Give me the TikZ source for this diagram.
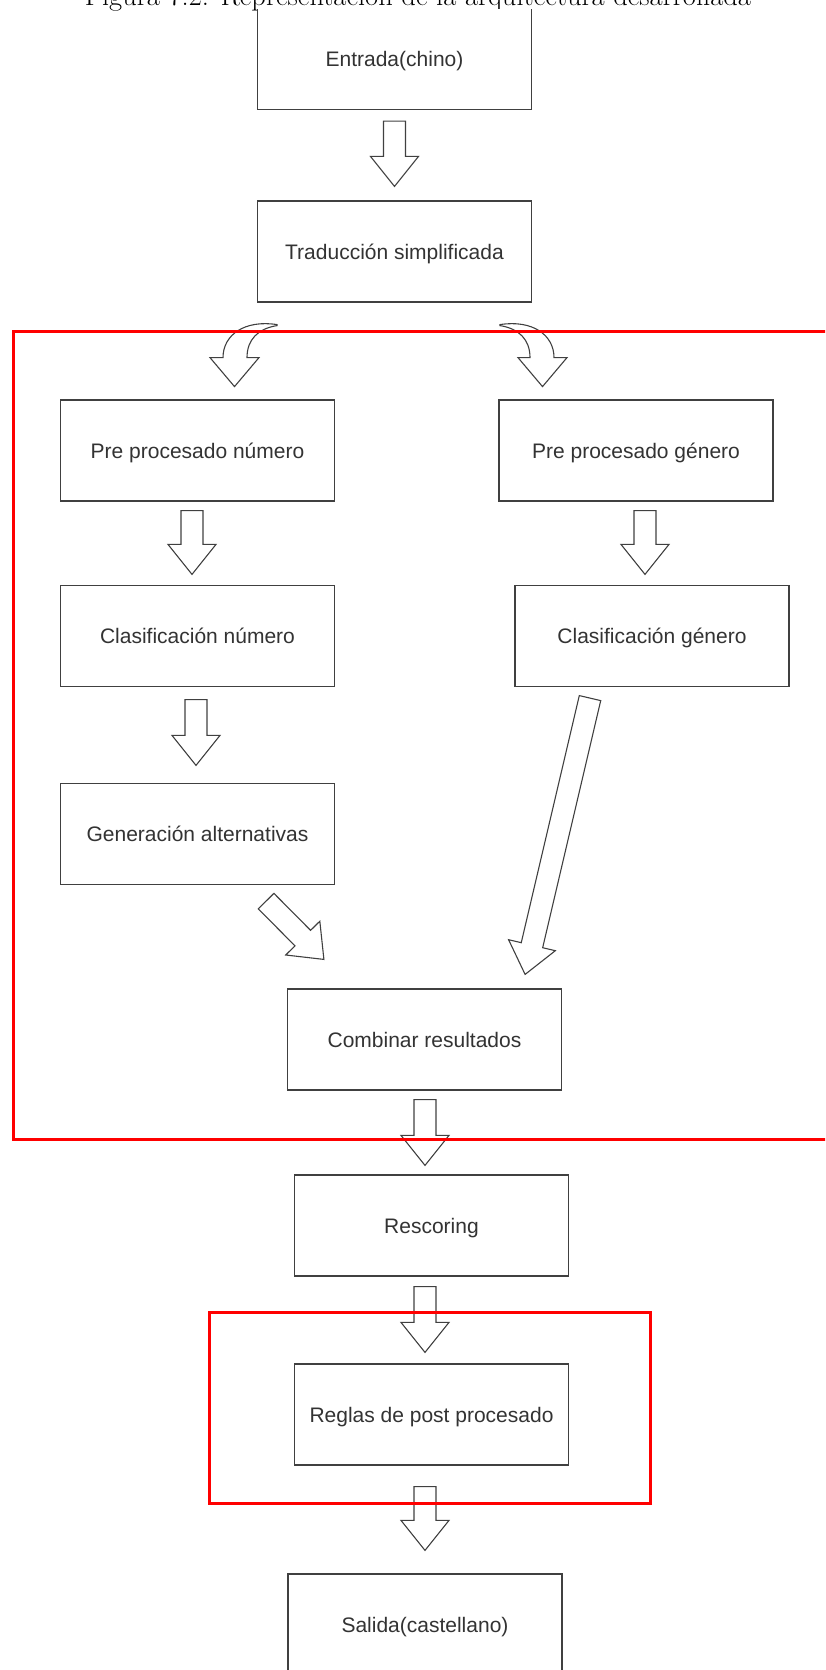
\documentclass[tikz,border=0pt]{standalone}
\usepackage{fontspec}
\newfontfamily\boxfont{Liberation Sans}
\usepackage{tikz}
\usetikzlibrary{calc}

% hollow block arrow from #1 (tail) to #2 (tip)
\newcommand{\blockarrow}[2]{%
    \coordinate (hb) at ($(#2)!30pt!(#1)$);
    \draw[blk] ($(#1)!11pt!90:(#2)$) -- ($(hb)!11pt!90:(#2)$) -- ($(hb)!24pt!90:(#2)$)
        -- (#2) -- ($(hb)!24pt!-90:(#2)$) -- ($(hb)!11pt!-90:(#2)$)
        -- ($(#1)!11pt!-90:(#2)$) -- cycle;
}

\tikzset{
    stage/.style={draw=black!75, line width=1.2pt, fill=white, minimum width=274pt,
        minimum height=101pt, inner sep=0pt, text=black!80,
        text height=15pt, text depth=0pt,
        font=\boxfont\fontsize{21}{24}\selectfont},
    blk/.style={draw=black!75, line width=1.1pt, line join=miter},
    frame/.style={draw=red, line width=3pt},
}

\begin{document}
\begin{tikzpicture}[x=1pt, y=-1pt]
    \useasboundingbox (0,0) rectangle (825,1670);
    \clip (0,0) rectangle (825,1670);

    % Caption (cut by the top of the page)
    \node[anchor=base, inner sep=0pt, font=\fontsize{28.5}{34}\selectfont] (caption) at (418,6)
        {Figura 7.2: Representación de la arquitectura desarrollada};

    \begin{scope}
    \clip (0,10) rectangle (830,1680);

    % Stages
    \node[stage] (entrada)   at (394.5,59)     {Entrada(chino)};
    \node[stage] (trad)      at (394.5,251.5)  {Traducción simplificada};
    \node[stage] (prenum)    at (197.5,450.5)  {Pre procesado número};
    \node[stage] (pregen)    at (636,450.5)    {Pre procesado género};
    \node[stage] (clasnum)   at (197.5,636)    {Clasificación número};
    \node[stage] (clasgen)   at (652,636)      {Clasificación género};
    \node[stage] (genalt)    at (197.5,834)    {Generación alternativas};
    \node[stage] (combinar)  at (424.5,1039.5) {Combinar resultados};
    \node[stage] (rescoring) at (431.5,1225.5) {Rescoring};
    \node[stage] (reglas)    at (431.5,1414.5) {Reglas de post procesado};
    \node[stage] (salida)    at (425,1624.5)   {Salida(castellano)};

    % Arrow ends
    \coordinate (a1s) at ($(entrada.south)+(0,11)$);
    \coordinate (a1e) at ($(trad.north)+(0,-14)$);
    \coordinate (a2s) at ($(prenum.south)+(-5.5,9)$);
    \coordinate (a2e) at ($(clasnum.north)+(-5.5,-10.5)$);
    \coordinate (a3s) at ($(pregen.south)+(9,9)$);
    \coordinate (a3e) at ($(clasgen.north)+(-7,-10.5)$);
    \coordinate (a4s) at ($(clasnum.south)+(-1.5,12.5)$);
    \coordinate (a4e) at ($(genalt.north)+(-1.5,-17.5)$);
    \coordinate (a5s) at ($(genalt.south east)+(-69,16)$);
    \coordinate (a5e) at ($(combinar.north west)+(37,-29)$);
    \coordinate (a6s) at ($(clasgen.south)+(-62,11)$);
    \coordinate (a6e) at ($(combinar.north east)+(-37,-14)$);
    \coordinate (a7s) at ($(combinar.south)+(0.5,9)$);
    \coordinate (a7e) at ($(rescoring.north)+(-6.5,-9)$);
    \coordinate (a8s) at ($(rescoring.south)+(-6.5,10)$);
    \coordinate (a8e) at ($(reglas.north)+(-6.5,-11)$);
    \coordinate (a9s) at ($(reglas.south)+(-6.5,21)$);
    \coordinate (a9e) at ($(salida.north)+(0,-23)$);

    % Block arrows
    \blockarrow{a1s}{a1e}
    \blockarrow{a2s}{a2e}
    \blockarrow{a3s}{a3e}
    \blockarrow{a4s}{a4e}
    \blockarrow{a5s}{a5e}
    \blockarrow{a6s}{a6e}
    \blockarrow{a7s}{a7e}
    \blockarrow{a8s}{a8e}
    \blockarrow{a9s}{a9e}

    % Curved arrows out of the translation
    \coordinate (c1) at ($(trad.south)+(-117.5,22)$);
    \coordinate (c2) at ($(trad.south)+(105.5,22)$);
    \draw[blk, shift={(c1)}] (0,0) .. controls (-32,-5) and (-54,10) .. (-54,33)
        -- (-67,33) -- (-42.5,62) -- (-18,33) -- (-30,33)
        .. controls (-30,15) and (-19,4) .. (0,1) -- cycle;
    \draw[blk, shift={(c2)}, xscale=-1] (0,0) .. controls (-32,-5) and (-54,10) .. (-54,33)
        -- (-67,33) -- (-42.5,62) -- (-18,33) -- (-30,33)
        .. controls (-30,15) and (-19,4) .. (0,1) -- cycle;

    % Red frames
    \draw[frame] (13,331) rectangle (840,1139);
    \draw[frame] (209,1312) rectangle (650,1503);
    \end{scope}
\end{tikzpicture}
\end{document}
